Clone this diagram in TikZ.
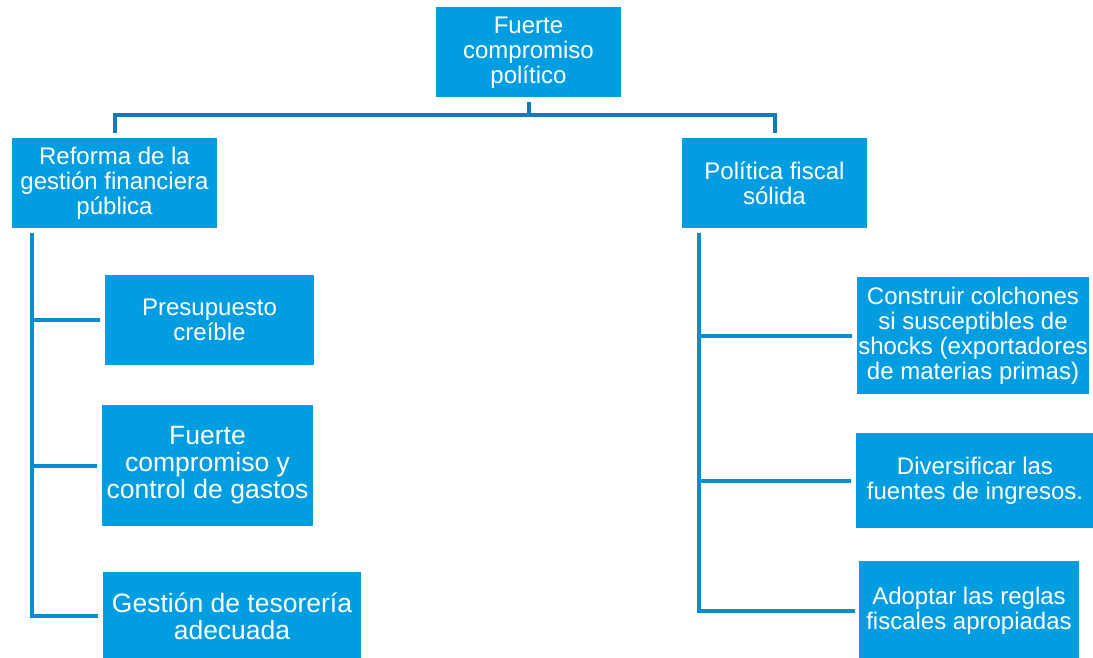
\documentclass[tikz,border=0pt]{standalone}
\usepackage{fontspec}
\setmainfont{Liberation Sans}
\definecolor{boxblue}{RGB}{0,158,224}
\definecolor{linkblue}{RGB}{18,124,184}
\definecolor{spineblue}{RGB}{6,142,208}
\tikzset{
	blok/.style={
		fill=boxblue,
		text=white,
		inner sep=0,
		align=center,
		font=\fontsize{24}{25}\selectfont
	},
	bigblok/.style={blok,font=\fontsize{26.5}{27}\selectfont},
	link/.style={draw=linkblue,line width=4pt}
}

\begin{document}
\begin{tikzpicture}[x=1pt,y=-1pt]
	\useasboundingbox (0,0) rectangle (1093,658);

	% nivel superior
	\node[blok,minimum width=185,minimum height=90] (top) at (528.5,52.5) {Fuerte\\compromiso\\político};
	\node[blok,minimum width=205,minimum height=90] (gfp) at (114.5,183) {Reforma de la\\gestión financiera\\pública};
	\node[blok,minimum width=185,minimum height=90] (pfs) at (774.5,183) {Política fiscal\\sólida};

	% hijos izquierda
	\node[blok,minimum width=209,minimum height=90] (gfp1) at (209.5,320) {Presupuesto\\creíble};
	\node[bigblok,minimum width=211,minimum height=121] (gfp2) at (207.5,465.5) {Fuerte\\compromiso y\\control de gastos};
	\node[bigblok,minimum width=258,minimum height=88] (gfp3) at (232,616) {Gestión de tesorería\\adecuada};

	% hijos derecha
	\node[blok,minimum width=232,minimum height=117] (pfs1) at (973,335.5) {Construir colchones\\si susceptibles de\\shocks (exportadores\\de materias primas)};
	\node[blok,minimum width=238,minimum height=95] (pfs2) at (975,480.5) {Diversificar las\\fuentes de ingresos.};
	\node[blok,minimum width=220,minimum height=99] (pfs3) at (969,610.5) {Adoptar las reglas\\fiscales apropiadas};

	% conectores
	\coordinate (bar) at (528,115);
	\draw[link,shorten <=4pt,shorten >=5pt] (top.south) -- (top.south |- bar) -| (gfp.north);
	\draw[link,shorten <=4pt,shorten >=5pt] (top.south) -- (top.south |- bar) -| (pfs.north);

	\coordinate (lsp) at (32,233);
	\draw[link,spineblue,shorten >=5pt] (lsp) |- (gfp3.west);
	\draw[link,spineblue,shorten >=5pt] (lsp |- gfp1.west) -- (gfp1.west);
	\draw[link,spineblue,shorten >=5pt] (lsp |- gfp2.west) -- (gfp2.west);

	\coordinate (rsp) at (699,233);
	\draw[link,spineblue,shorten >=4pt] (rsp) |- (pfs3.west);
	\draw[link,spineblue,shorten >=5pt] (rsp |- pfs1.west) -- (pfs1.west);
	\draw[link,spineblue,shorten >=5pt] (rsp |- pfs2.west) -- (pfs2.west);

\end{tikzpicture}
\end{document}
